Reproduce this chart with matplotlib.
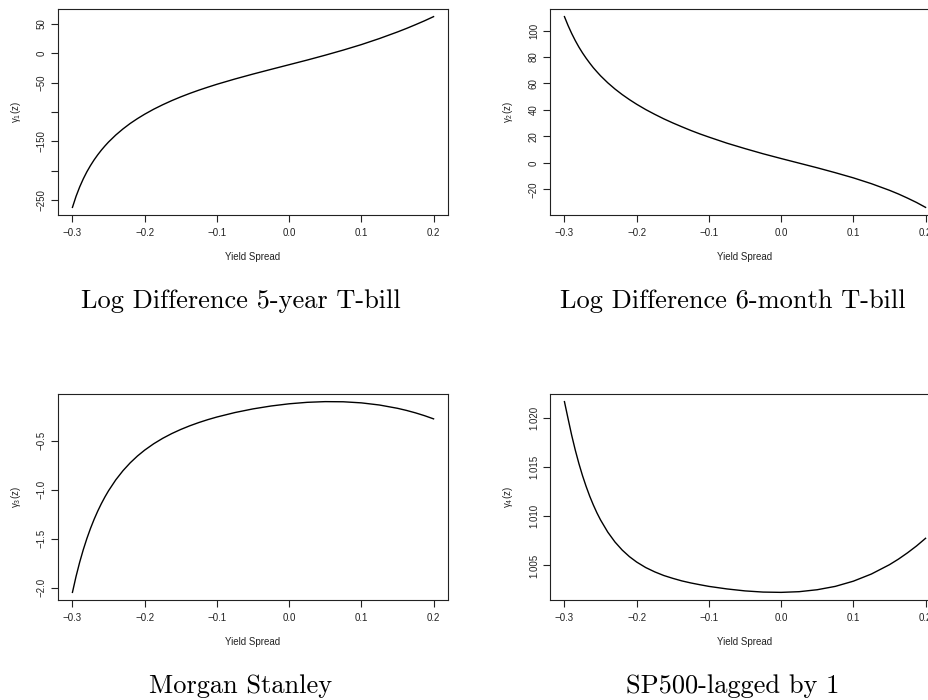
import matplotlib
matplotlib.use("Agg")
import matplotlib.pyplot as plt

# ---------------- data ----------------
yield_spread = [-0.3, -0.295, -0.29, -0.285, -0.28, -0.275, -0.27, -0.265, -0.26, -0.255,
                -0.25, -0.24, -0.23, -0.22, -0.21, -0.2, -0.1875, -0.175, -0.1625, -0.15,
                -0.1375, -0.125, -0.1125, -0.1, -0.075, -0.05, -0.025, 0.0, 0.025, 0.05,
                0.075, 0.1, 0.125, 0.15, 0.1625, 0.175, 0.1875, 0.2]

gamma1 = [-262.4, -243.6, -227.7, -213.9, -201.8, -191.2, -181.6, -173.0, -165.1, -157.9,
          -151.2, -139.3, -128.9, -119.6, -111.4, -103.9, -95.4, -87.8, -80.8, -74.4,
          -68.5, -63.0, -57.9, -53.0, -44.0, -35.6, -27.6, -19.7, -11.8, -3.5,
          5.2, 14.5, 24.8, 36.0, 42.0, 48.4, 55.0, 62.1]

gamma2 = [110.5, 103.8, 97.8, 92.4, 87.5, 83.1, 79.1, 75.4, 71.9, 68.8,
          65.8, 60.5, 55.8, 51.6, 47.8, 44.3, 40.3, 36.7, 33.3, 30.2,
          27.3, 24.5, 21.9, 19.5, 14.9, 10.8, 6.9, 3.3, -0.2, -3.7,
          -7.4, -11.3, -15.7, -20.7, -23.5, -26.6, -29.9, -33.6]

gamma3 = [-2.0475, -1.8845, -1.7404, -1.6122, -1.4978, -1.395, -1.3025, -1.2188, -1.1429, -1.0738,
          -1.0107, -0.8999, -0.8061, -0.7259, -0.6567, -0.5966, -0.5317, -0.476, -0.4278, -0.3856,
          -0.3483, -0.3152, -0.2855, -0.2589, -0.2132, -0.176, -0.1464, -0.124, -0.109, -0.1019,
          -0.1034, -0.1145, -0.1363, -0.1699, -0.1915, -0.2165, -0.2452, -0.2776]

gamma4 = [1.02170, 1.01997, 1.01828, 1.01676, 1.01539, 1.01416, 1.01306, 1.01206, 1.01117, 1.01036,
          1.00964, 1.00840, 1.00739, 1.00657, 1.00590, 1.00535, 1.00479, 1.00435, 1.00398, 1.00369,
          1.00343, 1.00322, 1.00304, 1.00287, 1.00261, 1.00241, 1.00229, 1.00226, 1.00233, 1.00253,
          1.00287, 1.00340, 1.00413, 1.00508, 1.00565, 1.00629, 1.00699, 1.00777]

series = [gamma1, gamma2, gamma3, gamma4]

titles = ["Log Difference 5-year T-bill", "Log Difference 6-month T-bill",
          "Morgan Stanley", "SP500-lagged by 1"]
ylabels = [r"$\mathregular{\gamma_1(z)}$", r"$\mathregular{\gamma_2(z)}$",
           r"$\mathregular{\gamma_3(z)}$", r"$\mathregular{\gamma_4(z)}$"]
xlabel = "Yield Spread"

xticks = [-0.3, -0.2, -0.1, 0.0, 0.1, 0.2]
xticklabels = ["\u22120.3", "\u22120.2", "\u22120.1", "0.0", "0.1", "0.2"]

yticks = [
    [-250, -200, -150, -100, -50, 0, 50],
    [-20, 0, 20, 40, 60, 80, 100],
    [-2.0, -1.5, -1.0, -0.5],
    [1.005, 1.010, 1.015, 1.020],
]
yticklabels = [
    ["\u2212250", "", "\u2212150", "", "\u221250", "0", "50"],
    ["\u221220", "0", "20", "40", "60", "80", "100"],
    ["\u22122.0", "\u22121.5", "\u22121.0", "\u22120.5"],
    ["1.005", "1.010", "1.015", "1.020"],
]

# ---------------- styling ----------------
plt.rcParams["font.family"] = ["Liberation Sans", "DejaVu Sans"]
plt.rcParams["mathtext.fontset"] = "custom"
plt.rcParams["mathtext.rm"] = "Liberation Sans"
plt.rcParams["mathtext.it"] = "Liberation Sans"

W, H = 929, 700
fig = plt.figure(figsize=(W / 100, H / 100), dpi=100)

# axes boxes in pixels: (left, top, width, height)
boxes = [(58, 9, 390, 206), (550, 9, 390, 206),
         (58, 394, 390, 206), (550, 394, 390, 206)]
title_pos = [(241, 308), (733, 308), (241, 693), (733, 693)]

for i, (l, t, w, h) in enumerate(boxes):
    ax = fig.add_axes([l / W, 1 - (t + h) / H, w / W, h / H])
    g = series[i]
    ax.plot(yield_spread, g, color="black", lw=1.0)
    ax.set_xlim(-0.32, 0.22)
    lo, hi = min(g), max(g)
    pad = 0.04 * (hi - lo)
    ax.set_ylim(lo - pad, hi + pad)

    ax.set_xticks(xticks)
    ax.set_xticklabels(xticklabels)
    ax.set_yticks(yticks[i])
    ax.set_yticklabels(yticklabels[i])

    for sp in ax.spines.values():
        sp.set_linewidth(0.8)
        sp.set_color("#222222")
    ax.tick_params(axis="both", direction="out", length=5, width=0.8,
                   color="#222222", labelsize=7, labelcolor="#222222")
    ax.tick_params(axis="x", pad=4.2)
    ax.tick_params(axis="y", pad=3.0)
    plt.setp(ax.get_yticklabels(), rotation=90, va="center", ha="right")

    ax.text(-42 / w, 0.5, ylabels[i], transform=ax.transAxes, rotation=90,
            ha="center", va="center", fontsize=7, color="#222222")
    ax.text(0.5, -42 / h, xlabel, transform=ax.transAxes,
            ha="center", va="center", fontsize=7, color="#222222")

    tx, ty = title_pos[i]
    fig.text(tx / W, 1 - ty / H, titles[i], ha="center", va="baseline",
             fontsize=19, family="cmr10", color="black")

fig.savefig("out.png", dpi=100)
